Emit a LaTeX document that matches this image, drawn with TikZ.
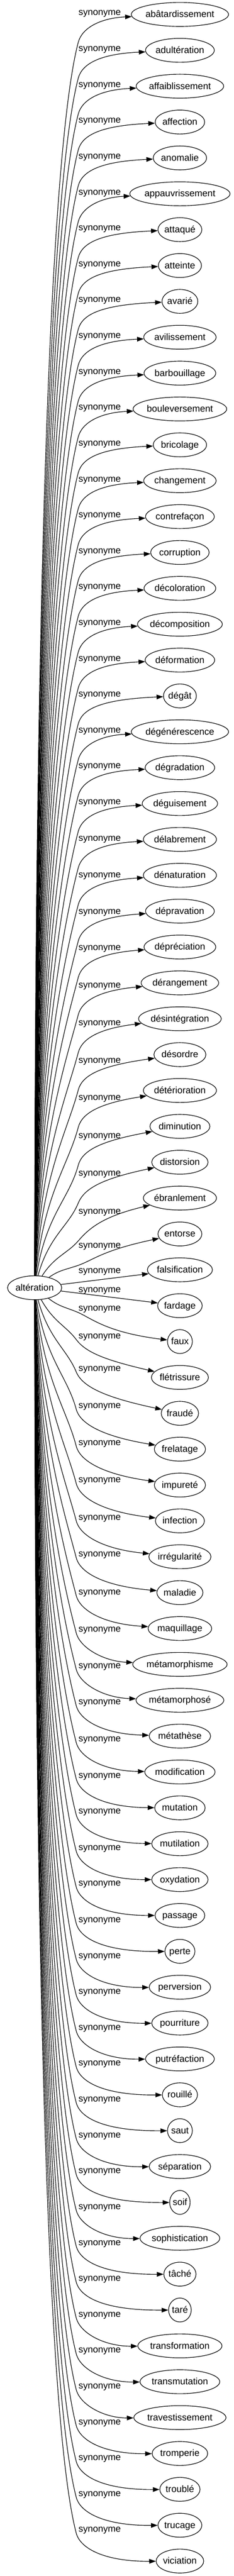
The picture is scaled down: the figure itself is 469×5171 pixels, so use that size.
\documentclass[tikz,border=0pt]{standalone}
\usepackage{fontspec}
\setmainfont{Liberation Sans}
\usetikzlibrary{arrows.meta,shapes.geometric}
\newlength\wordw
\newcommand\wfont{\fontsize{14pt}{16pt}\selectfont}
\begin{document}
\begin{tikzpicture}[x=0.75pt,y=-0.75pt,
  word/.style={draw, ellipse, line width=0.9pt, inner sep=0pt, minimum height=36pt,
    text height=12pt, text depth=3pt, font=\wfont},
  lbl/.style={inner sep=0pt, text height=12pt, text depth=3pt, font=\wfont},
  edge/.style={draw, line width=0.9pt, -{Triangle[length=10pt,width=7pt]}}]
\useasboundingbox (0,0) rectangle (469,5171);
\settowidth\wordw{\wfont altération}
\node[word, minimum width={1.24*\wordw+25.4pt}] (root) at (69.5,2585) {altération};
\foreach \w/\yl [count=\i] in {abâtardissement/28, adultération/100, affaiblissement/172, affection/244, anomalie/316, appauvrissement/388, attaqué/460, atteinte/532, avarié/604, avilissement/676, barbouillage/748, bouleversement/820, bricolage/892, changement/964, contrefaçon/1036, corruption/1108, décoloration/1180, décomposition/1252, déformation/1324, dégât/1396, dégénérescence/1468, dégradation/1540, déguisement/1612, délabrement/1685, dénaturation/1759, dépravation/1832, dépréciation/1905, dérangement/1980, désintégration/2056, désordre/2131, détérioration/2206, diminution/2282, distorsion/2358, ébranlement/2434, entorse/2502, falsification/2553, fardage/2591, faux/2628, flétrissure/2684, fraudé/2749, frelatage/2824, impureté/2898, infection/2973, irrégularité/3048, maladie/3122, maquillage/3198, métamorphisme/3273, métamorphosé/3346, métathèse/3419, modification/3493, mutation/3566, mutilation/3638, oxydation/3711, passage/3783, perte/3856, perversion/3928, pourriture/4000, putréfaction/4072, rouillé/4144, saut/4216, séparation/4288, soif/4360, sophistication/4432, tâché/4504, taré/4576, transformation/4648, transmutation/4720, travestissement/4792, tromperie/4864, troublé/4936, trucage/5008, viciation/5080}{
  \pgfmathsetmacro\yt{29+72*(\i-1)}
  \settowidth\wordw{\wfont \w}
  \node[word, minimum width={1.24*\wordw+25.4pt}] (t\i) at (361,\yt) {\w};
  \node[lbl] (l\i) at (200,\yl-3) {synonyme};
  \ifnum\i<36
    \pgfmathsetmacro\off{\i==35 ? 38 : 57}
    \pgfmathsetmacro\yK{\yl+\off}
    \pgfmathsetmacro\dist{2561-\yK}
    \pgfmathsetmacro\m{min(3.8,1.3*\dist/78)}
    \pgfmathsetmacro\nrm{sqrt(1+\m*\m)}
    \pgfmathsetmacro\ux{1/\nrm}
    \pgfmathsetmacro\uy{\m/\nrm}
    \pgfmathsetmacro\xs{70+14*(1-\dist/2500)+40*exp(-min(\dist,1500)/150)}
    \pgfmathsetmacro\ya{2561-0.55*\dist}
    \pgfmathsetmacro\chord{100*veclen(0.82,\dist/100)}
    \pgfmathsetmacro\Ltwo{min(0.3*\chord,60+0.065*\dist)}
    \draw[edge] (root) .. controls (\xs,\ya) and ({157-\Ltwo*\ux},{\yK+\Ltwo*\uy}) .. (157,\yK)
      .. controls ({157+32*\ux},{\yK-32*\uy}) and (205,\yl+8) .. (t\i);
  \else\ifnum\i<38
    \draw[edge] (root) -- (t\i);
  \else
    \pgfmathsetmacro\yK{\yl+5}
    \pgfmathsetmacro\dist{\yK-2609}
    \pgfmathsetmacro\m{min(3.8,1.3*\dist/78)}
    \pgfmathsetmacro\nrm{sqrt(1+\m*\m)}
    \pgfmathsetmacro\ux{1/\nrm}
    \pgfmathsetmacro\uy{\m/\nrm}
    \pgfmathsetmacro\xs{70+14*(1-\dist/2500)+40*exp(-min(\dist,1500)/150)}
    \pgfmathsetmacro\ya{2609+0.55*\dist}
    \pgfmathsetmacro\chord{100*veclen(0.82,\dist/100)}
    \pgfmathsetmacro\Ltwo{min(0.3*\chord,60+0.065*\dist)}
    \pgfmathsetmacro\ptwo{(\i==38 || \i==39) ? 46 : (\i==40 ? 56 : (\i==41 ? 60 : 62))}
    \draw[edge] (root) .. controls (\xs,\ya) and ({153-\Ltwo*\ux},{\yK-\Ltwo*\uy}) .. (153,\yK)
      .. controls ({153+32*\ux},{\yK+32*\uy}) and (210,\yl+\ptwo) .. (t\i);
  \fi\fi
}
\end{tikzpicture}
\end{document}
